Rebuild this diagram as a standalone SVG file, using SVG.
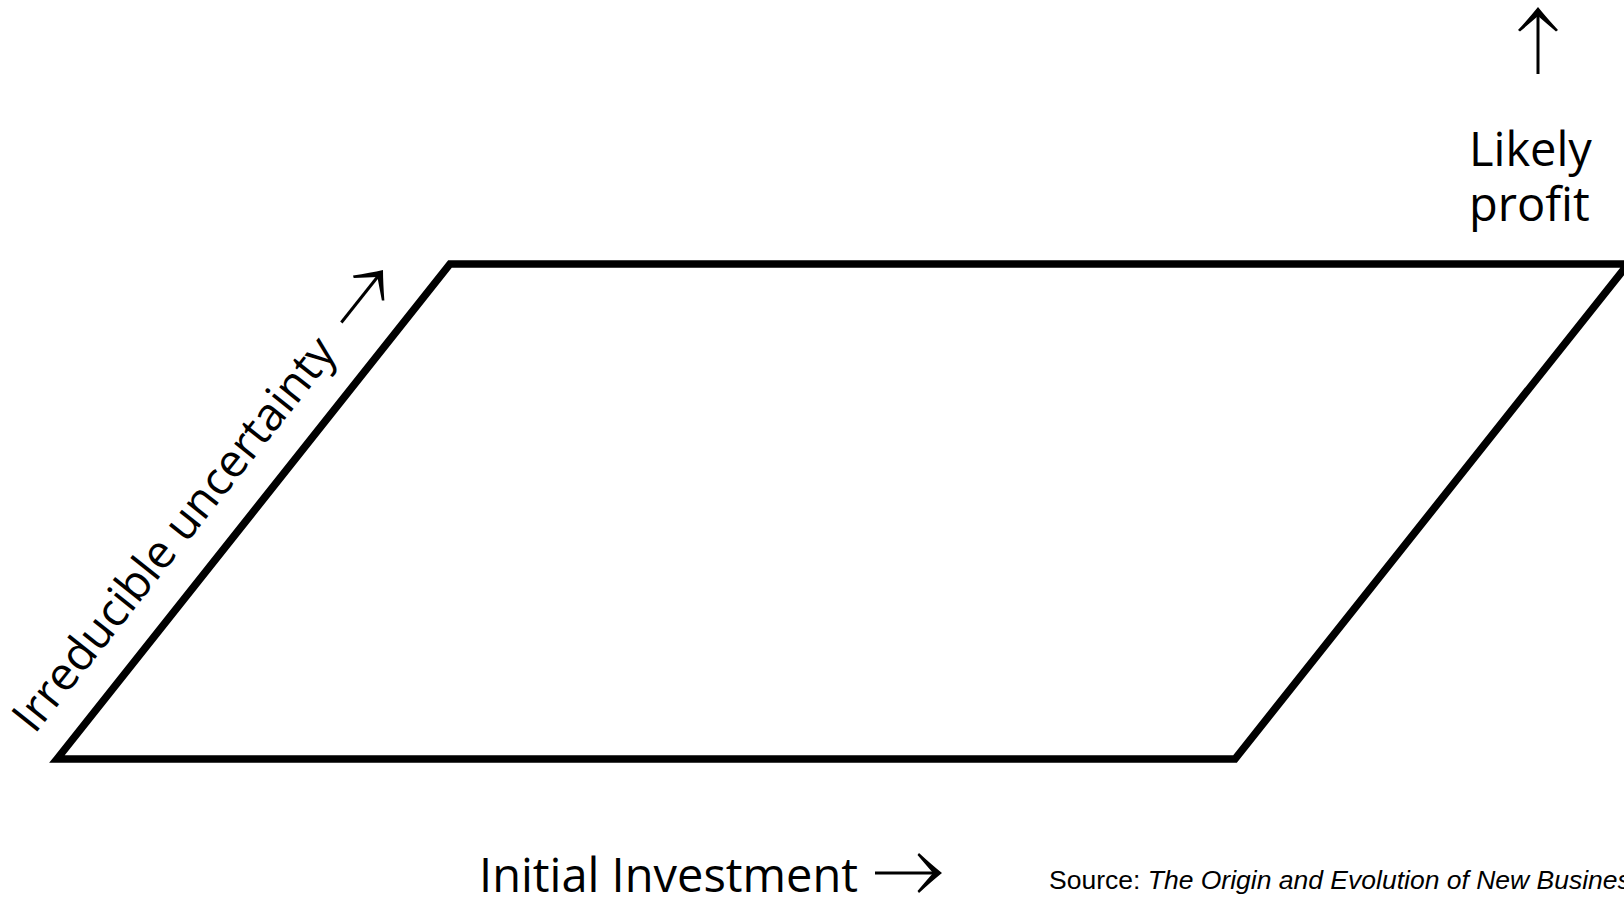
<svg xmlns="http://www.w3.org/2000/svg" xmlns:xlink="http://www.w3.org/1999/xlink" width="1624" height="898" viewBox="0 0 1624 898">
  <style>
    .label { font-family: "Open Sans", "Noto Sans", "DejaVu Sans", sans-serif; fill: #000; }
    .source { font-family: "Liberation Sans", Arial, sans-serif; font-size: 26.5px; fill: #000; }
    .frame { fill: none; stroke: #000; stroke-width: 7.6; stroke-linejoin: miter; }
  </style>
  <defs>
    <!-- long arrow with curved barbs; tip at the origin, pointing along +x -->
    <g id="longArrow">
      <line x1="-67" y1="0" x2="-6" y2="0" stroke="#000" stroke-width="3"/>
      <path d="M 0 0 Q -10 -8 -23 -20 L -24.5 -18 Q -16 -8 -9 0 Q -16 8 -24.5 18 L -23 20 Q -10 8 0 0 Z" fill="#000"/>
    </g>
  </defs>

  <rect width="1624" height="898" fill="#fff"/>

  <g id="plane">
    <polygon class="frame" points="57,759 450,264 1628,264 1235,759"/>
  </g>

  <g id="axis-uncertainty">
    <text class="label" font-size="46" transform="translate(34.5,735) rotate(-51.56)">Irreducible uncertainty</text>
    <use xlink:href="#longArrow" transform="translate(383,270) rotate(-51.56)"/>
  </g>

  <g id="axis-profit">
    <use xlink:href="#longArrow" transform="translate(1538,7) rotate(-90)"/>
    <text class="label" font-size="47" x="1469" y="166">Likely</text>
    <text class="label" font-size="47" x="1469" y="221">profit</text>
  </g>

  <g id="axis-investment">
    <text class="label" font-size="47" x="479" y="892">Initial Investment</text>
    <use xlink:href="#longArrow" transform="translate(942,873)"/>
  </g>

  <g id="source-note">
    <text class="source" x="1049" y="889">Source: <tspan font-style="italic">The Origin and Evolution of New Businesses</tspan></text>
  </g>
</svg>
